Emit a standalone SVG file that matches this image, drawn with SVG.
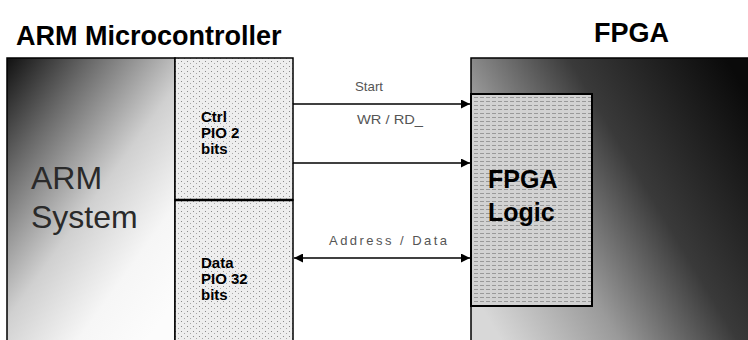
<svg xmlns="http://www.w3.org/2000/svg" width="748" height="340" viewBox="0 0 748 340">
<defs>
<linearGradient id="armGrad" x1="0" y1="0" x2="0.8" y2="1">
<stop offset="0" stop-color="#111"/>
<stop offset="0.25" stop-color="#6a6a6a"/>
<stop offset="0.55" stop-color="#d0d0d0"/>
<stop offset="0.8" stop-color="#f6f6f6"/>
<stop offset="1" stop-color="#fcfcfc"/>
</linearGradient>
<linearGradient id="fpgaGrad" x1="0" y1="0.8" x2="1" y2="0.2">
<stop offset="0" stop-color="#d8d8d8"/>
<stop offset="0.3" stop-color="#9a9a9a"/>
<stop offset="0.6" stop-color="#3a3a3a"/>
<stop offset="1" stop-color="#0a0a0a"/>
</linearGradient>
<pattern id="dots" width="6" height="5" patternUnits="userSpaceOnUse">
<rect width="6" height="5" fill="#eeeeee"/>
<rect x="1" y="1" width="1" height="1" fill="#8a8a8a"/>
<rect x="4" y="3" width="1" height="1" fill="#a8a8a8"/>
</pattern>
<pattern id="lines" width="6" height="4" patternUnits="userSpaceOnUse">
<rect width="6" height="4" fill="#d2d2d2"/>
<rect x="0" y="1" width="4" height="1" fill="#999"/>
</pattern>
<marker id="ah" viewBox="0 0 10 10" refX="10" refY="5" markerWidth="9" markerHeight="9" markerUnits="userSpaceOnUse" orient="auto-start-reverse">
<path d="M0,0 L10,5 L0,10 z" fill="#000"/>
</marker>
</defs>
<style>
.title{font-family:"Liberation Sans",Arial,sans-serif;font-weight:bold;font-size:27px;fill:#000}
.big{font-family:"Liberation Sans",Arial,sans-serif;font-size:32px;fill:#2a2a2a}
.pio{font-family:"Liberation Sans",Arial,sans-serif;font-weight:bold;font-size:15px;fill:#000}
.logic{font-family:"Liberation Sans",Arial,sans-serif;font-weight:bold;font-size:25px;fill:#000}
.lbl{font-family:"Liberation Sans",Arial,sans-serif;font-size:13px;fill:#555}
.box{stroke:#000;stroke-width:1.5}
.wire{stroke:#000;stroke-width:1.5;fill:none}
</style>
<rect width="748" height="340" fill="#fff"/>
<text class="title" x="16" y="45">ARM Microcontroller</text>
<text class="title" x="594" y="42">FPGA</text>
<g id="arm-system">
<rect class="box" x="7" y="58" width="168" height="290" fill="url(#armGrad)"/>
<text class="big" x="31" y="189">ARM</text>
<text class="big" x="31" y="228">System</text>
</g>
<g id="ctrl-pio">
<rect class="box" x="175" y="58" width="118" height="142" fill="url(#dots)"/>
<text class="pio" x="201" y="122">Ctrl</text>
<text class="pio" x="201" y="138">PIO 2</text>
<text class="pio" x="201" y="154">bits</text>
</g>
<g id="data-pio">
<rect class="box" x="175" y="200" width="118" height="148" fill="url(#dots)"/>
<line x1="175" y1="200" x2="293" y2="200" stroke="#000" stroke-width="2.5"/>
<text class="pio" x="201" y="268">Data</text>
<text class="pio" x="201" y="284">PIO 32</text>
<text class="pio" x="201" y="300">bits</text>
</g>
<g id="fpga">
<rect class="box" x="471" y="58" width="290" height="290" fill="url(#fpgaGrad)"/>
</g>
<g id="fpga-logic">
<rect x="471" y="94" width="121" height="212" fill="url(#lines)" stroke="#000" stroke-width="2"/>
<text class="logic" x="488" y="188">FPGA</text>
<text class="logic" x="488" y="221">Logic</text>
</g>
<g id="connectors">
<line class="wire" x1="293" y1="104" x2="470" y2="104" stroke="#555" marker-end="url(#ah)"/>
<line class="wire" x1="293" y1="163" x2="470" y2="163" marker-end="url(#ah)"/>
<line class="wire" x1="294" y1="258" x2="470" y2="258" stroke-width="2.5" marker-start="url(#ah)" marker-end="url(#ah)"/>
<text class="lbl" x="355" y="91" textLength="28" lengthAdjust="spacingAndGlyphs">Start</text>
<text class="lbl" x="357" y="124" textLength="66" lengthAdjust="spacingAndGlyphs">WR / RD_</text>
<text class="lbl" x="329" y="245" font-size="14" textLength="118" lengthAdjust="spacing">Address / Data</text>
</g>
</svg>
